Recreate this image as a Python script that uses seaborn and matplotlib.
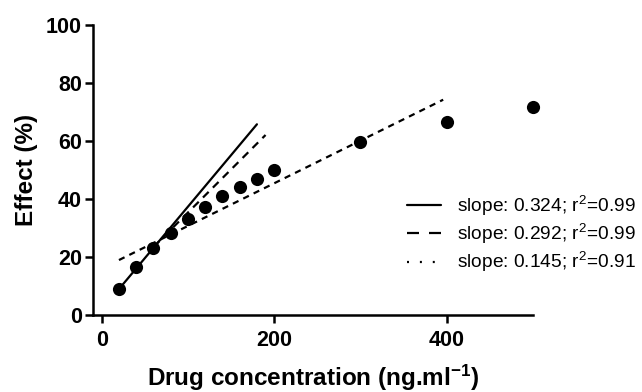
import numpy as np
import pandas as pd
import seaborn as sb
import matplotlib.pyplot as plt
from matplotlib.lines import Line2D

# measured points
conc = [20, 40, 60, 80, 100, 120, 140, 160, 180, 200, 300, 400, 500]
effect = [9.0, 16.7, 23.0, 28.4, 33.3, 37.3, 41.0, 44.3, 47.1, 50.0, 59.8, 66.7, 71.8]

# fitted lines as drawn: x range, value at start, drawn slope
fit_x_start = [20, 60, 20]
fit_x_end = [180, 190, 396]
fit_y_start = [9.0, 23.5, 19.0]
fit_slope_drawn = [0.355, 0.297, 0.147]
fit_labels = [r"slope: 0.324; r$^2$=0.99",
              r"slope: 0.292; r$^2$=0.99",
              r"slope: 0.145; r$^2$=0.91"]

sb.set_style("ticks")
plt.rcParams['font.family'] = ['Liberation Sans', 'DejaVu Sans']
plt.rcParams['mathtext.default'] = 'regular'
for k in ['text.color', 'axes.labelcolor', 'xtick.color', 'ytick.color', 'axes.edgecolor']:
    plt.rcParams[k] = 'black'

fig = plt.figure(figsize=(6.42, 3.92), dpi=100)
ax = fig.add_axes([0.145, 0.196, 0.685, 0.740])

# fit lines
styles = ["-", (0, (3.6, 2.7)), (0, (2.8, 2.4))]
for i in range(3):
    xs = np.array([fit_x_start[i], fit_x_end[i]])
    ys = fit_y_start[i] + fit_slope_drawn[i] * (xs - fit_x_start[i])
    sb.lineplot(x=xs, y=ys, ax=ax, color="black", lw=1.6, linestyle=styles[i])

df = pd.DataFrame({"conc": conc, "effect": effect})
sb.scatterplot(data=df, x="conc", y="effect", ax=ax, color="black",
               s=90, edgecolor="black", linewidth=0, zorder=3, clip_on=False)

ax.set_xlim(-10, 500)
ax.set_ylim(0, 100)
ax.set_xticks([0, 200, 400])
ax.set_yticks([0, 20, 40, 60, 80, 100])
sb.despine(ax=ax)
for sp in ["left", "bottom"]:
    ax.spines[sp].set_linewidth(1.8)
ax.tick_params(width=1.8, length=6, labelsize=15.5)
ax.tick_params(axis="x", pad=5)
ax.tick_params(axis="y", pad=2)
for lab in ax.get_xticklabels() + ax.get_yticklabels():
    lab.set_fontweight("bold")

ax.set_xlabel(r"Drug concentration (ng.ml$^{-1}$)", fontsize=17.5,
              fontweight="bold", labelpad=8)
ax.set_ylabel("Effect (%)", fontsize=17.5, fontweight="bold", labelpad=6)

handles = [Line2D([], [], color="black", lw=1.6, linestyle="-"),
           Line2D([], [], color="black", lw=1.6, linestyle=(0, (5.4, 4.5))),
           Line2D([], [], color="black", lw=1.6, linestyle=(0, (0.9, 4.9)))]
ax.legend(handles, fit_labels, loc="center left", bbox_to_anchor=(0.714, 0.28),
          frameon=False, fontsize=13.8, handlelength=1.75, handletextpad=0.85,
          labelspacing=0.22, borderpad=0, borderaxespad=0)

fig.savefig("out.png", dpi=100)
